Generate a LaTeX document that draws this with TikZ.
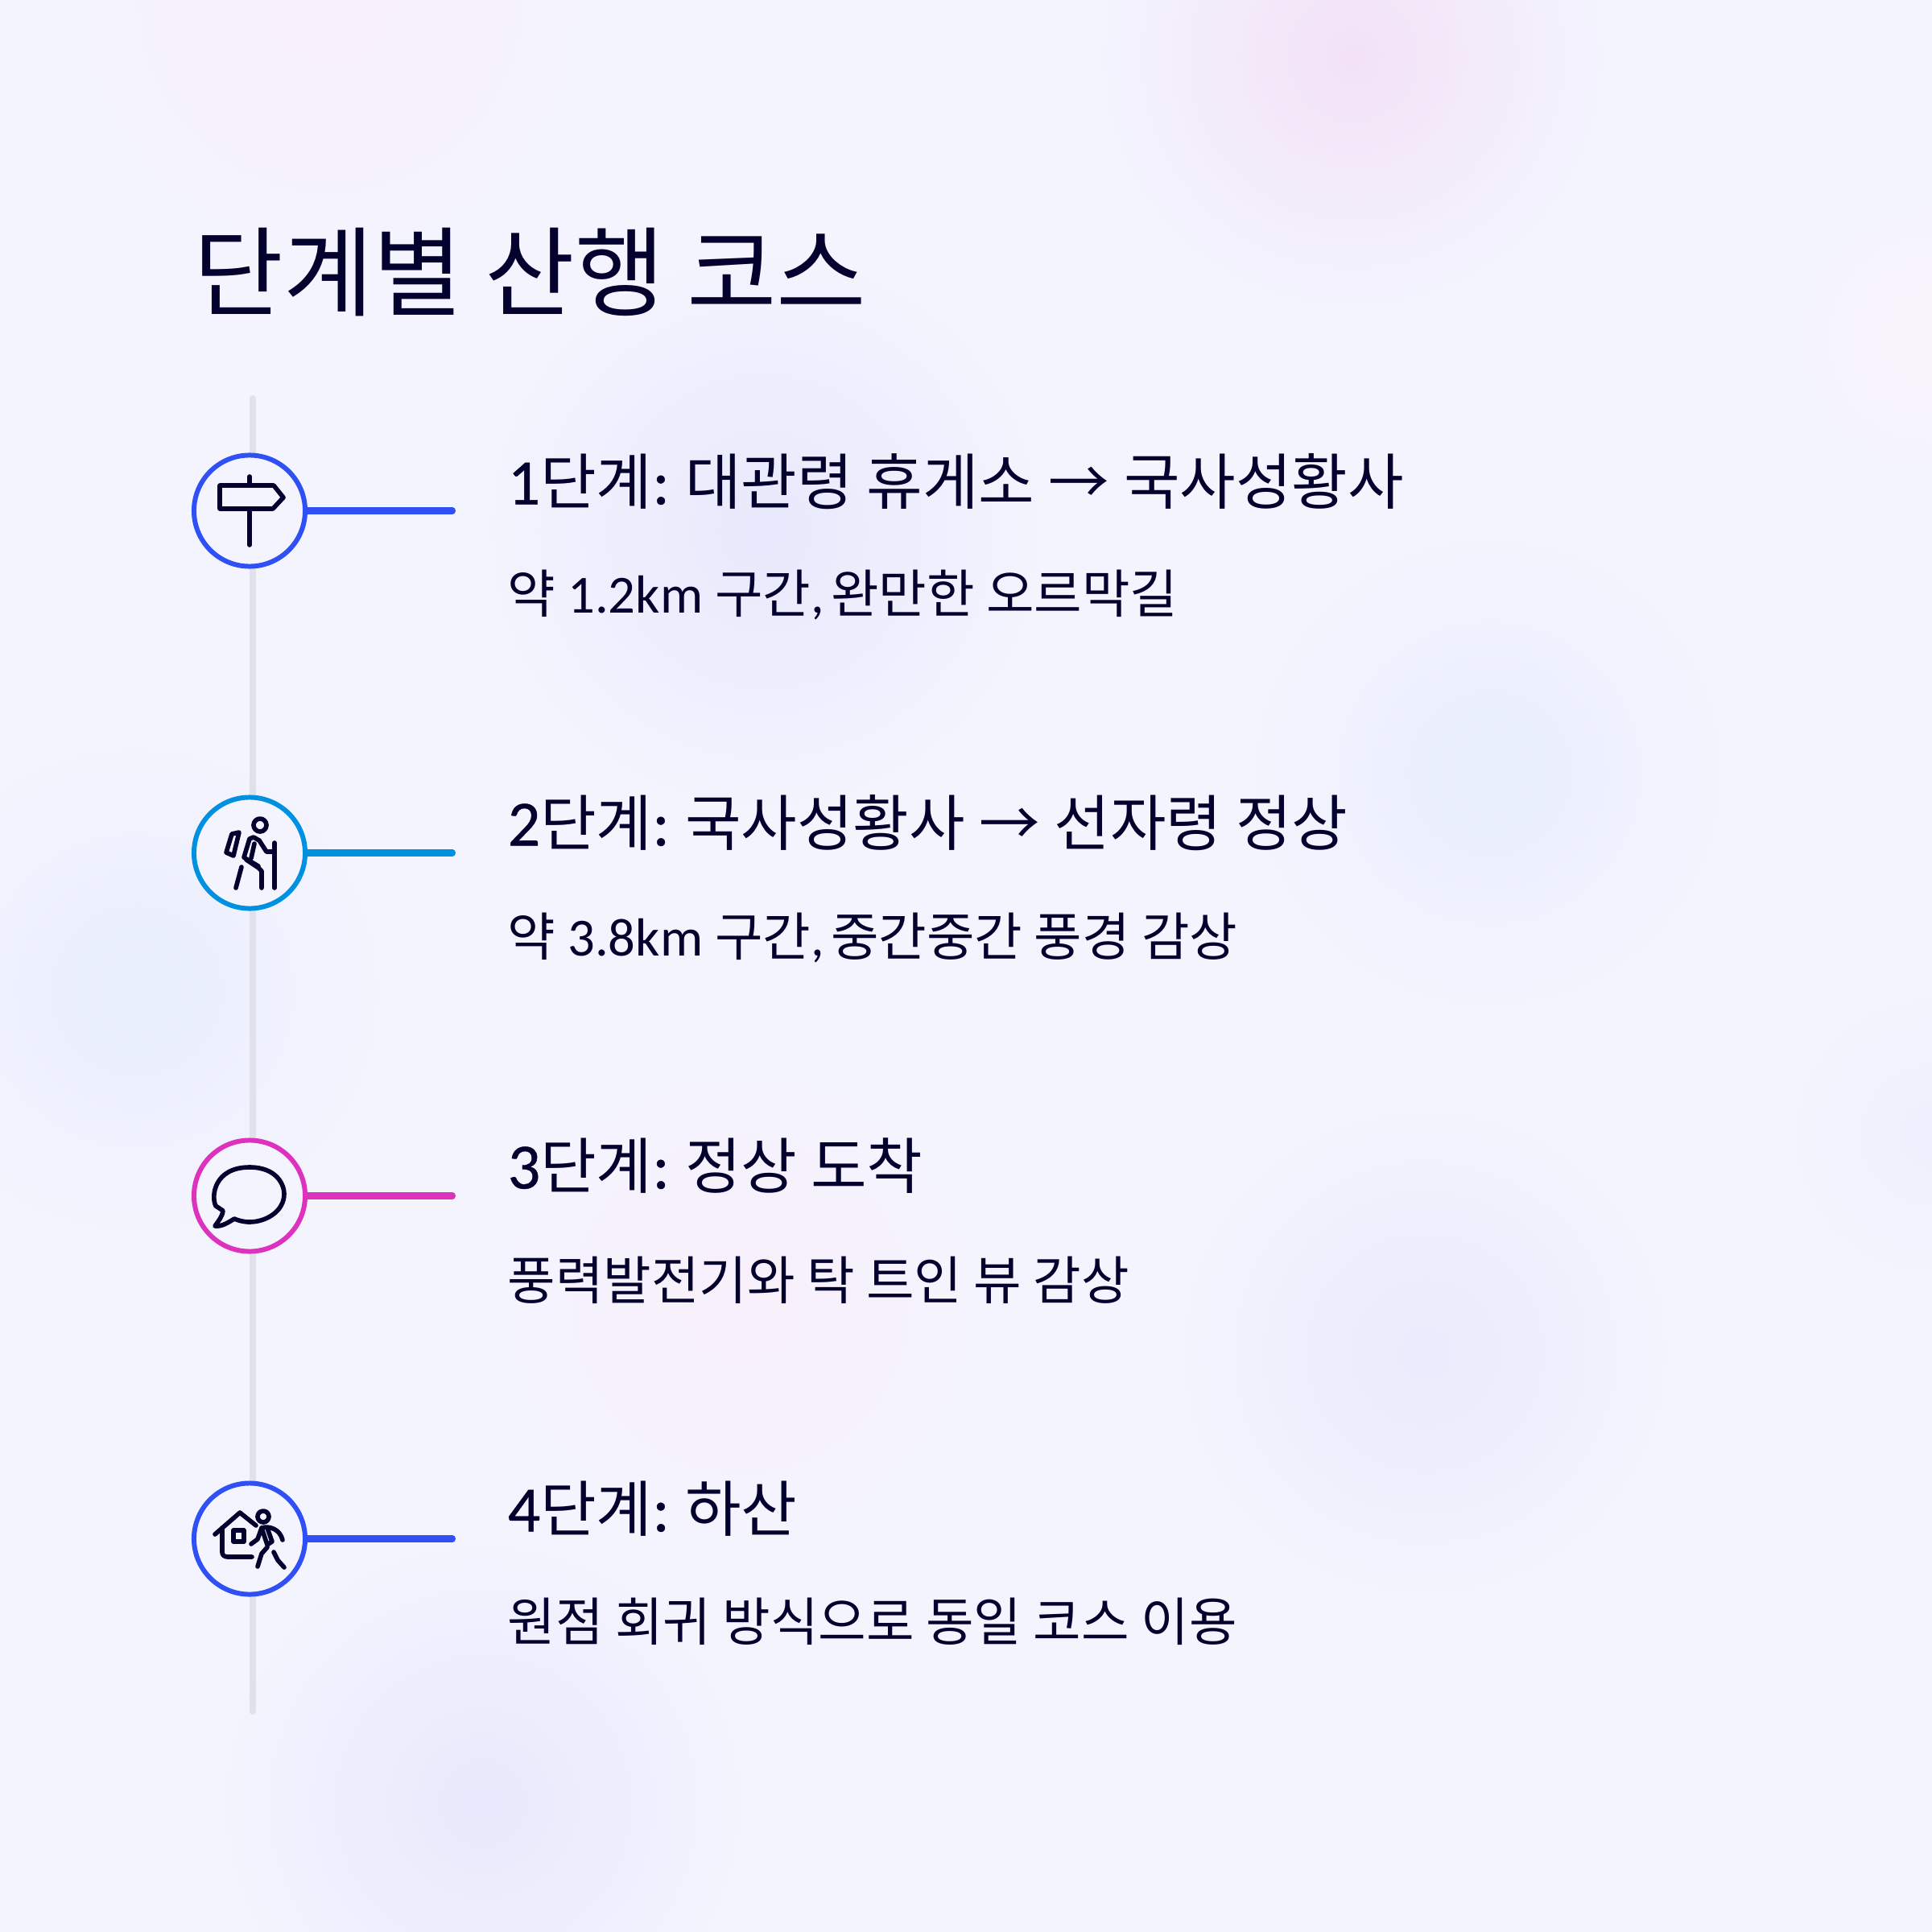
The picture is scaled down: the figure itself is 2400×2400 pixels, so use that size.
\documentclass[tikz,border=0pt]{standalone}
\usepackage{fontspec}
\usetikzlibrary{fadings}
\setmainfont[Scale=1.03]{Carlito}
\newfontfamily\krfont{Noto Sans CJK KR}
\newfontfamily\hdfont[Scale=1.06,FakeBold=0.5]{Carlito}
\newcommand{\kr}[1]{{\krfont #1}}
\newcommand{\hd}[1]{{\hdfont #1}}
\definecolor{pagebg}{HTML}{F4F4FF}
\definecolor{inkdark}{HTML}{03012D}
\definecolor{stemgray}{HTML}{E1E1EB}
\definecolor{stepblue}{HTML}{2F50F5}
\definecolor{stepcyan}{HTML}{0090E0}
\definecolor{stepmagenta}{HTML}{DC32BE}
\definecolor{blobpink}{HTML}{F3E2F6}
\definecolor{blobblue}{HTML}{E9EFFD}
\definecolor{bloblav}{HTML}{E8E9FC}
\tikzfading[name=blobfade, inner color=transparent!0, outer color=transparent!100]
\tikzset{
  blob/.style={path fading=blobfade},
  ring/.style={draw=#1, line width=1.7pt, circle, fill=pagebg, minimum size=1.38cm, inner sep=0pt},
  arm/.style={draw=#1, line width=2.3pt, line cap=round},
  icon/.style={draw=inkdark, line width=1.6pt, line cap=round, line join=round},
  headtext/.style={anchor=west, inner sep=0pt, text=inkdark, font=\fontsize{21.5}{26}\selectfont},
  subtext/.style={anchor=west, inner sep=0pt, text=inkdark, font=\fontsize{18.4}{22}\selectfont},
}
\begin{document}
\begin{tikzpicture}[x=0.01cm,y=-0.01cm]
\useasboundingbox (0,0) rectangle (2400,2400);
\fill[pagebg] (0,0) rectangle (2400,2400);
% soft background
\fill[blob,blobpink] (1680,70) circle (310);
\fill[blob,blobpink!55] (410,0) circle (300);
\fill[blob,bloblav] (950,660) circle (340);
\fill[blob,blobblue] (1850,960) circle (290);
\fill[blob,blobblue] (170,1230) circle (300);
\fill[blob,bloblav!90] (1770,1680) circle (300);
\fill[blob,bloblav] (600,2240) circle (320);
\fill[blob,blobpink!50] (920,1620) circle (280);
\fill[blob,bloblav!70] (2400,1410) circle (170);
\fill[blob,blobpink!35] (2400,420) circle (180);

\node[inner sep=0pt, anchor=west, text=inkdark, font=\fontsize{34.5}{40}\selectfont\krfont] (title) at (240,338) {단계별 산행 코스};

\draw[stemgray, line width=2.3pt, line cap=round] (314,495) coordinate (stemtop) -- (314,2126) coordinate (stembot);

% steps
\node[ring=stepblue] (c1) at (310,634.5) {};
\node[ring=stepcyan] (c2) at (310,1059.5) {};
\node[ring=stepmagenta] (c3) at (310,1485.5) {};
\node[ring=stepblue] (c4) at (310,1911.5) {};

\coordinate (e1) at (562,634.5);
\coordinate (e2) at (562,1059.5);
\coordinate (e3) at (562,1485.5);
\coordinate (e4) at (562,1911.5);
\draw[arm=stepblue] (c1.east) -- (e1);
\draw[arm=stepcyan] (c2.east) -- (e2);
\draw[arm=stepmagenta] (c3.east) -- (e3);
\draw[arm=stepblue] (c4.east) -- (e4);

\node[headtext] (h1) at (630,598) {\hd{1}\kr{단계}\hd{:}\hspace{-1.2pt} \kr{대관령 휴게소} \kr{→} \kr{국사성황사}};
\node[subtext] (s1) at (630,739) {\kr{약} 1.2km \kr{구간},\hspace{-2pt} \kr{완만한 오르막길}};
\node[headtext] (h2) at (630,1022) {\hd{2}\kr{단계}\hd{:}\hspace{-1.2pt} \kr{국사성황사} \kr{→} \kr{선자령 정상}};
\node[subtext] (s2) at (630,1165) {\kr{약} 3.8km \kr{구간},\hspace{-2pt} \kr{중간중간 풍경 감상}};
\node[headtext] (h3) at (630,1448) {\hd{3}\kr{단계}\hd{:}\hspace{-1.2pt} \kr{정상 도착}};
\node[subtext] (s3) at (630,1590) {\kr{풍력발전기와 탁 트인 뷰 감상}};
\node[headtext] (h4) at (630,1874) {\hd{4}\kr{단계}\hd{:}\hspace{-1.2pt} \kr{하산}};
\node[subtext] (s4) at (630,2014) {\kr{원점 회귀 방식으로 동일 코스 이용}};

% signpost
\draw[icon] (310,592) -- (310,603);
\draw[icon] (310,634) -- (310,677);
\draw[icon] (273,603) -- (340,603) -- (352,618) -- (339,632) -- (273,632) -- cycle;

% hiker
\draw[icon] (323,1025) circle (8);
\draw[icon] (281,1059) -- (288,1036) -- (297,1034) -- (290,1063) -- cycle;
\draw[icon] (321,1076) -- (306,1067) -- (303,1065) -- (310,1042) -- (315,1040) -- (322,1044) -- (331,1058) -- (341,1058);
\draw[icon] (316,1048) -- (312,1066);
\draw[icon] (306,1068) -- (321,1078) -- (325,1082) -- (325,1103);
\draw[icon] (300,1077) -- (293,1103);
\draw[icon] (341,1047) -- (341,1103);

% speech
\draw[icon] (268,1498) .. controls (262,1486) and (266,1450) .. (310,1450) .. controls (344,1450) and (353,1472) .. (353,1483) .. controls (353,1505) and (330,1518) .. (310,1518) .. controls (302,1518) and (296,1516) .. (291,1514) .. controls (283,1519) and (275,1524) .. (267,1523) .. controls (271,1517) and (276,1512) .. (277,1504) -- cycle;

% house and walker
\draw[icon] (267,1906) -- (298,1879) -- (318,1895);
\draw[icon] (276,1898) -- (276,1928) .. controls (276,1932) and (279,1934) .. (283,1934) -- (313,1934);
\draw[icon] (290,1901) rectangle (303,1915);
\draw[icon] (327,1884) circle (7);
\draw[icon] (312,1918) -- (320,1912) -- (325,1898) .. controls (335,1895) and (348,1900) .. (351,1913);
\draw[icon] (325,1898) -- (332,1919) -- (338,1915) -- (332,1898);
\draw[icon] (332,1922) -- (325,1930) -- (320,1946);
\draw[icon] (340,1928) -- (345,1938) -- (353,1947);
\end{tikzpicture}
\end{document}
